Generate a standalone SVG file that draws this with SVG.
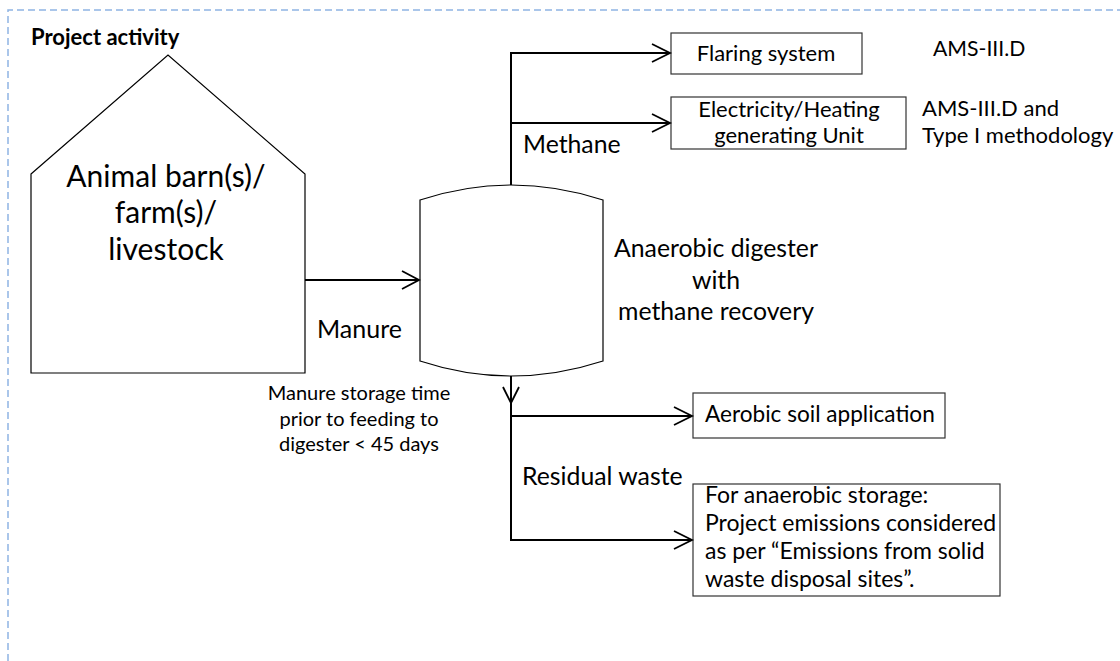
<svg xmlns="http://www.w3.org/2000/svg" width="1120" height="661" viewBox="0 0 1120 661">
<style>
  text { font-family: Lato, "Liberation Sans", sans-serif; fill: #000; }
  .box { fill: #fff; stroke: #333; stroke-width: 1.2; }
  .shape { fill: #fff; stroke: #000; stroke-width: 1.2; }
  .conn { fill: none; stroke: #000; stroke-width: 2; }
  .head { fill: none; stroke: #000; stroke-width: 1.8; }
  .mid { text-anchor: middle; }
</style>
<rect width="1120" height="661" fill="#fff"/>
<path d="M8,661 V10 H1120" fill="none" stroke="#8eb4e3" stroke-width="1.5" stroke-dasharray="7,4"/>
<text x="31" y="45" font-size="22" font-weight="bold">Project activity</text>

<g id="barn">
  <polygon class="shape" points="31,174 168,55 305,174 305,373 31,373"/>
  <text class="mid" x="166" y="187" font-size="30">Animal barn(s)/</text>
  <text class="mid" x="166" y="223" font-size="30">farm(s)/</text>
  <text class="mid" x="166" y="260" font-size="30">livestock</text>
</g>

<g id="digester">
  <path class="shape" stroke-width="2" d="M420,200 Q511,170 603,200 L603,361 Q511,391 420,361 Z"/>
  <text class="mid" x="716" y="257" font-size="24.8">Anaerobic digester</text>
  <text class="mid" x="716" y="289" font-size="24.8">with</text>
  <text class="mid" x="716" y="320" font-size="24.8">methane recovery</text>
</g>

<g id="flaring">
  <rect class="box" x="671" y="33" width="191" height="41"/>
  <text class="mid" x="766" y="61" font-size="22">Flaring system</text>
  <text x="933" y="56" font-size="21.2">AMS-III.D</text>
</g>

<g id="electricity">
  <rect class="box" x="671" y="97" width="235" height="52"/>
  <text class="mid" x="789" y="117" font-size="22">Electricity/Heating</text>
  <text class="mid" x="789" y="143" font-size="22">generating Unit</text>
  <text x="922" y="116" font-size="22">AMS-III.D and</text>
  <text x="922" y="143" font-size="22">Type I methodology</text>
</g>

<g id="aerobic">
  <rect class="box" x="693" y="393" width="252" height="45"/>
  <text x="705" y="422" font-size="22.6">Aerobic soil application</text>
</g>

<g id="anaerobic">
  <rect class="box" x="693" y="484" width="307" height="112"/>
  <text x="705" y="503" font-size="23">For anaerobic storage:</text>
  <text x="705" y="531" font-size="23">Project emissions considered</text>
  <text x="705" y="559" font-size="23">as per “Emissions from solid</text>
  <text x="705" y="587" font-size="23">waste disposal sites”.</text>
</g>

<g id="connectors">
  <path class="conn" d="M305,280 H419"/>
  <path class="head" d="M402,271 L419,280 L402,289"/>
  <path class="conn" d="M511,185 V53 H670"/>
  <path class="head" d="M652,44 L670,53 L652,62"/>
  <path class="conn" d="M511,123 H670"/>
  <path class="head" d="M652,114 L670,123 L652,132"/>
  <path class="conn" d="M511,376 V540 H692"/>
  <path class="head" d="M503,387 L511,403 L519,387"/>
  <path class="conn" d="M511,416 H692"/>
  <path class="head" d="M674,407 L692,416 L674,425"/>
  <path class="head" d="M674,531 L692,540 L674,549"/>
  <text x="523" y="153" font-size="24.8">Methane</text>
  <text x="317" y="338" font-size="25">Manure</text>
  <text x="522" y="485" font-size="24.8">Residual waste</text>
  <text class="mid" x="359" y="400" font-size="20">Manure storage time</text>
  <text class="mid" x="359" y="426" font-size="20">prior to feeding to</text>
  <text class="mid" x="359" y="451" font-size="20">digester &lt; 45 days</text>
</g>
</svg>
